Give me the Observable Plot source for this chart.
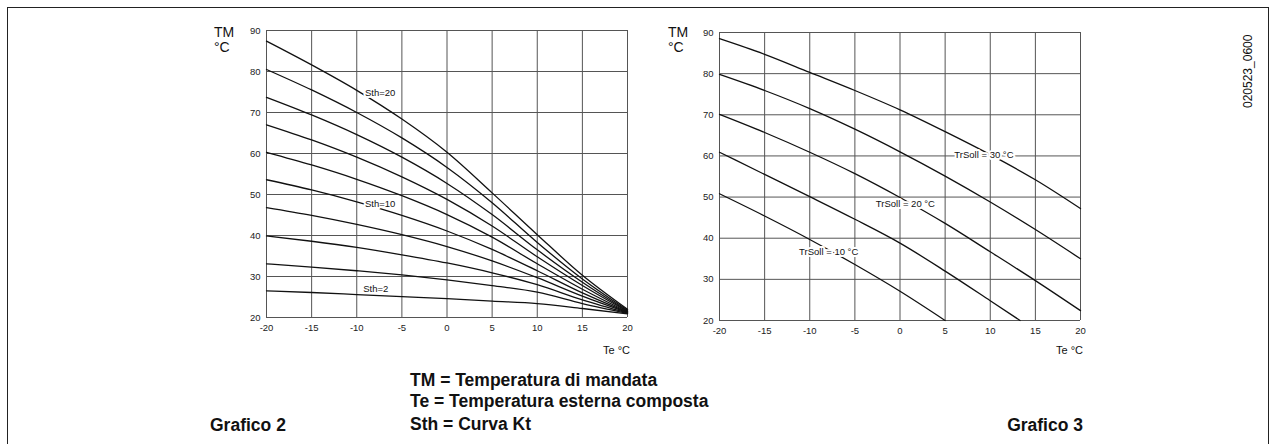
<!DOCTYPE html>
<html>
<head>
<meta charset="utf-8">
<script src="https://cdn.jsdelivr.net/npm/d3@7"></script>
<script src="https://cdn.jsdelivr.net/npm/@observablehq/plot@0.6"></script>
<style>
html,body{margin:0;padding:0;background:#fff;}
#page{position:relative;width:1275px;height:444px;overflow:hidden;font-family:"Liberation Sans",Arial,Helvetica,sans-serif;}
#left{position:absolute;left:200px;top:0;}
#right{position:absolute;left:650px;top:0;}
#overlay{position:absolute;left:0;top:0;}
</style>
</head>
<body>
<div id="page">
  <div id="left"></div>
  <div id="right"></div>
  <svg id="overlay" width="1275" height="444"></svg>
</div>
<script>
// ---------- data ----------
const te = [-20, -15, -10, -5, 0, 5, 10, 15, 20];
const xTickLabels = [-20, -15, -10, -5, 0, 5, 10, 15, 20];
const yTickLabels = [20, 30, 40, 50, 60, 70, 80, 90];

// Grafico 2: curves Sth (Curva Kt)
const sthNames = ["Sth=20", "Sth=18", "Sth=16", "Sth=14", "Sth=12", "Sth=10", "Sth=8", "Sth=6", "Sth=4", "Sth=2"];
const sth20 = [87.4, 81.6, 75.4, 68.4, 60.3, 50.4, 40.2, 30.3, 22.0];
const sth18 = [80.5, 75.5, 70.0, 63.8, 56.6, 48.0, 38.3, 29.4, 21.8];
const sth16 = [73.7, 69.4, 64.6, 59.1, 52.7, 45.1, 36.5, 28.6, 21.6];
const sth14 = [67.0, 63.3, 59.1, 54.3, 48.8, 42.3, 34.8, 27.8, 21.5];
const sth12 = [60.3, 57.2, 53.7, 49.7, 45.1, 39.6, 33.1, 26.9, 21.4];
const sth10 = [53.6, 51.1, 48.2, 44.9, 41.1, 36.6, 31.4, 26.0, 21.3];
const sth8  = [46.8, 44.9, 42.7, 40.2, 37.3, 33.8, 29.7, 25.2, 21.2];
const sth6  = [39.9, 38.6, 37.1, 35.3, 33.3, 30.9, 28.0, 24.3, 21.1];
const sth4  = [33.1, 32.3, 31.4, 30.4, 29.2, 27.8, 26.2, 23.4, 21.0];
const sth2  = [26.5, 26.1, 25.6, 25.1, 24.6, 24.0, 23.4, 22.2, 20.9];
const sthLabelText = ["Sth=20", "Sth=10", "Sth=2"];
const sthLabelTe = [-7.4, -7.4, -7.9];
const sthLabelTm = [74.7, 47.7, 26.9];

// Grafico 3: curves TrSoll
const tr30Te = [-20, -15, -10, -5, 0, 5, 10, 15, 20];
const tr30 = [88.5, 84.7, 80.3, 75.9, 71.2, 65.9, 60.3, 54.2, 47.2];
const tr25Te = [-20, -15, -10, -5, 0, 5, 10, 15, 20];
const tr25 = [79.8, 75.9, 71.5, 66.5, 61.0, 55.1, 48.8, 42.1, 35.0];
const tr20Te = [-20, -15, -10, -5, 0, 5, 10, 15, 20];
const tr20 = [70.1, 65.7, 60.9, 55.7, 49.9, 43.6, 36.7, 29.7, 22.4];
const tr15Te = [-20, -15, -10, -5, 0, 5, 10, 13.3];
const tr15 = [60.9, 55.5, 50.1, 44.6, 38.8, 32.0, 24.8, 20.0];
const tr10Te = [-20, -15, -10, -5, 0, 5];
const tr10 = [50.8, 45.4, 39.7, 33.6, 27.1, 20.0];
const trLabelText = ["TrSoll = 30 °C", "TrSoll = 20 °C", "TrSoll = 10 °C"];
const trLabelTe = [9.3, 0.6, -7.9];
const trLabelTm = [60.3, 48.4, 36.6];

// ---------- build tables ----------
const sthSeries = [sth20, sth18, sth16, sth14, sth12, sth10, sth8, sth6, sth4, sth2];
const leftRows = sthSeries.flatMap((vals, k) => vals.map((v, i) => ({te: te[i], tm: v, s: sthNames[k]})));
const leftLabels = sthLabelText.map((t, i) => ({te: sthLabelTe[i], tm: sthLabelTm[i], t}));

const trSeries = [["30", tr30Te, tr30], ["25", tr25Te, tr25], ["20", tr20Te, tr20], ["15", tr15Te, tr15], ["10", tr10Te, tr10]];
const rightRows = trSeries.flatMap(([n, xs, ys]) => ys.map((v, i) => ({te: xs[i], tm: v, s: n})));
const rightLabels = trLabelText.map((t, i) => ({te: trLabelTe[i], tm: trLabelTm[i], t}));

const gridColor = "#555";
const fmt = d => String(d);

function chart(rows, labels, opts) {
  return Plot.plot({
    width: opts.width, height: 360,
    marginLeft: opts.ml, marginRight: opts.mr, marginTop: opts.mt, marginBottom: 360 - opts.mt - opts.ph,
    style: {background: "transparent", fontFamily: "Liberation Sans, Arial, Helvetica, sans-serif", fontSize: "9.5px", color: "#222", overflow: "visible"},
    x: {domain: [-20, 20], ticks: 8, tickSize: 0, tickPadding: 7, tickFormat: fmt, label: null},
    y: {domain: [20, 90], ticks: 7, tickSize: 0, tickPadding: 6, tickFormat: fmt, label: null},
    marks: [
      Plot.ruleX(xTickLabels, {stroke: gridColor, strokeWidth: 1}),
      Plot.ruleY(yTickLabels, {stroke: gridColor, strokeWidth: 1}),
      Plot.line(rows, {x: "te", y: "tm", z: "s", stroke: "#111", strokeWidth: 1.3, curve: "monotone-x"}),
      Plot.text(labels, {x: "te", y: "tm", text: "t", fontSize: 9.5, fill: "#111", stroke: "white", strokeWidth: 4})
    ]
  });
}

document.getElementById("left").appendChild(chart(leftRows, leftLabels, {width: 450, ml: 66, mr: 23, mt: 30, ph: 287}));
document.getElementById("right").appendChild(chart(rightRows, rightLabels, {width: 625, ml: 69, mr: 195, mt: 32, ph: 288}));

// ---------- annotations ----------
const ov = d3.select("#overlay");
ov.append("rect").attr("x", 7.5).attr("y", 7.5).attr("width", 1261).attr("height", 470)
  .attr("fill", "none").attr("stroke", "#222").attr("stroke-width", 1);

const font = "Liberation Sans, Arial, Helvetica, sans-serif";
function txt(x, y, s, size, opts = {}) {
  const t = ov.append("text").attr("x", x).attr("y", y).text(s)
    .attr("font-family", font).attr("font-size", size).attr("fill", "#111");
  if (opts.anchor) t.attr("text-anchor", opts.anchor);
  if (opts.bold) t.attr("font-weight", "bold");
  if (opts.transform) t.attr("transform", opts.transform);
  return t;
}
// axis titles
txt(214, 37, "TM", 14); txt(214, 51.5, "°C", 14);
txt(668, 37, "TM", 14); txt(668, 51.5, "°C", 14);
txt(630, 354, "Te °C", 11, {anchor: "end"});
txt(1083, 354, "Te °C", 11, {anchor: "end"});
// legend text
txt(410, 385.7, "TM = Temperatura di mandata", 17.5, {bold: true});
txt(410, 407.3, "Te = Temperatura esterna composta", 17.5, {bold: true});
txt(410, 430, "Sth = Curva Kt", 17.5, {bold: true});
txt(210, 430.5, "Grafico 2", 17.5, {bold: true});
txt(1083, 430.5, "Grafico 3", 17.5, {bold: true, anchor: "end"});
// rotated code
txt(0, 0, "020523_0600", 12, {transform: "translate(1251.5,108) rotate(-90)"});
</script>
</body>
</html>
